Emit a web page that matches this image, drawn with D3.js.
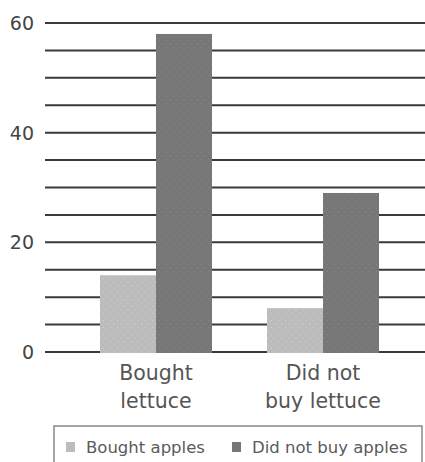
<!DOCTYPE html>
<html><head><meta charset="utf-8">
<script src="https://cdn.jsdelivr.net/npm/d3@7"></script>
<style>body{margin:0;background:#fff}svg{display:block}</style>
</head><body>
<svg id="c" width="425" height="462"></svg>
<script>
const categories = [["Bought","lettuce"],["Did not","buy lettuce"]];
const seriesNames = ["Bought apples","Did not buy apples"];
const boughtApples = [14, 8];
const didNotBuyApples = [58, 29];
const yTicks = [0, 20, 40, 60];
const gridValues = d3.range(0, 61, 5);
const colors = ["#bcbcbc", "#777777"];

const svg = d3.select("#c");
const font = "'DejaVu Sans', Verdana, sans-serif";
const y = d3.scaleLinear().domain([0, 60]).range([352, 23]);

// patterns
const defs = svg.append("defs");
colors.forEach((c,i)=>{
  const p = defs.append("pattern").attr("id","pat"+i).attr("patternUnits","userSpaceOnUse")
    .attr("width",7).attr("height",7);
  p.append("rect").attr("width",7).attr("height",7).attr("fill",c);
  p.append("circle").attr("cx",2).attr("cy",2).attr("r",0.6).attr("fill", i===0?"#d6d6d6":"#8a8a8a");
  p.append("circle").attr("cx",5.5).attr("cy",5.5).attr("r",0.6).attr("fill", i===0?"#d6d6d6":"#8a8a8a");
});

// gridlines
svg.append("g").selectAll("line").data(gridValues).join("line")
  .attr("x1",45).attr("x2",425)
  .attr("y1",d=>y(d)).attr("y2",d=>y(d))
  .attr("stroke","#3a3a3a").attr("stroke-width",2);

// y labels
svg.append("g").selectAll("text").data(yTicks).join("text")
  .attr("x",34).attr("y",d=>y(d)).attr("dy","0.36em")
  .attr("text-anchor","end").attr("font-family",font).attr("font-size",19)
  .attr("fill","#444").text(d=>d);

// bars
const centers = [156, 323];
const barW = 56;
const series = [boughtApples, didNotBuyApples];
series.forEach((vals,si)=>{
  svg.append("g").selectAll("rect").data(vals).join("rect")
    .attr("x",(d,i)=>centers[i] + (si===0?-barW:0))
    .attr("y",d=>y(d)).attr("width",barW)
    .attr("height",d=>y(0)-y(d)+1)
    .attr("fill","url(#pat"+si+")");
});

// category labels
categories.forEach((lines,i)=>{
  const t = svg.append("text").attr("x",centers[i]).attr("y",380)
    .attr("text-anchor","middle").attr("font-family",font).attr("font-size",20.5)
    .attr("fill","#555");
  lines.forEach((l,j)=>t.append("tspan").attr("x",centers[i]).attr("dy",j?28:0).text(l));
});

// legend
svg.append("rect").attr("x",54).attr("y",426).attr("width",368).attr("height",50)
  .attr("fill","#fff").attr("stroke","#888").attr("stroke-width",1.5);
const legX = [66, 232];
seriesNames.forEach((n,i)=>{
  svg.append("rect").attr("x",legX[i]).attr("y",442).attr("width",9).attr("height",10).attr("fill",colors[i]);
  svg.append("text").attr("x",legX[i]+20).attr("y",452.5).attr("font-family",font)
    .attr("font-size",16.5).attr("fill","#5a5a5a").text(n);
});
</script>
</body></html>
